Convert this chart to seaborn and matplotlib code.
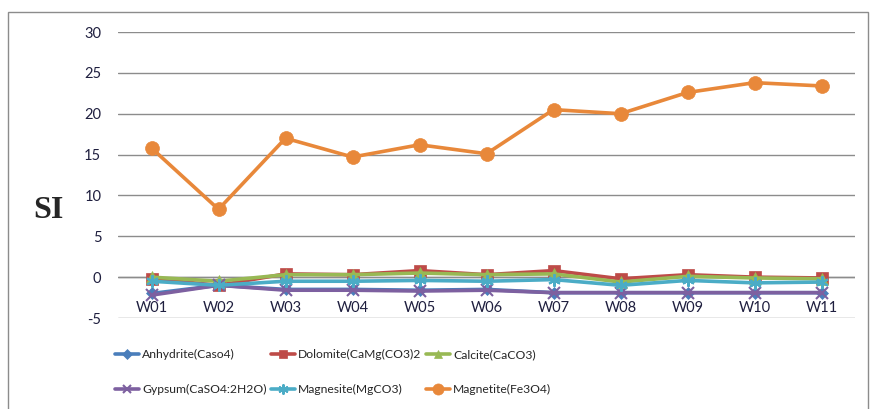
import matplotlib
matplotlib.use("Agg")
import matplotlib.pyplot as plt
import seaborn as sns
import pandas as pd
from matplotlib.patches import Rectangle

wells = ["W01", "W02", "W03", "W04", "W05", "W06", "W07", "W08", "W09", "W10", "W11"]
anhydrite = [-2.0, -1.0, -1.5, -1.5, -1.6, -1.5, -1.9, -1.9, -1.9, -1.9, -1.9]
dolomite = [-0.2, -1.0, 0.4, 0.3, 0.8, 0.3, 0.8, -0.2, 0.3, 0.0, -0.1]
calcite = [0.0, -0.5, 0.3, 0.3, 0.5, 0.3, 0.4, -0.6, 0.1, -0.1, -0.2]
gypsum = [-2.2, -1.0, -1.6, -1.6, -1.7, -1.6, -1.9, -1.9, -1.9, -1.9, -1.9]
magnesite = [-0.5, -1.0, -0.5, -0.5, -0.4, -0.5, -0.3, -1.0, -0.4, -0.7, -0.6]
magnetite = [15.8, 8.3, 17.0, 14.7, 16.2, 15.1, 20.5, 20.0, 22.6, 23.8, 23.4]

series = [
    ("Anhydrite(Caso4)", anhydrite, "#4A7EBB", "D", 6),
    ("Dolomite(CaMg(CO3)2", dolomite, "#BE4B48", "s", 8),
    ("Calcite(CaCO3)", calcite, "#98B954", "^", 8),
    ("Gypsum(CaSO4:2H2O)", gypsum, "#7D60A0", "x", 8),
    ("Magnesite(MgCO3)", magnesite, "#4BACC6", (6, 2, 0), 9),
    ("Magnetite(Fe3O4)", magnetite, "#E8883A", "o", 10),
]

sns.set_style("white")
plt.rcParams["font.family"] = ["Lato", "DejaVu Sans"]
plt.rcParams["axes.unicode_minus"] = False

fig = plt.figure(figsize=(8.76, 4.09), dpi=100)
ax = fig.add_axes([118/876, 1-318/409, (855-118)/876, (318-32)/409])

x = list(range(len(wells)))
handles = []
for name, vals, col, mk, ms in series:
    df = pd.DataFrame({"x": x, "y": vals})
    sns.lineplot(data=df, x="x", y="y", ax=ax, color=col, linewidth=2.6,
                 marker=mk, markersize=ms, markeredgecolor=col,
                 markeredgewidth=1.5 if mk in ("x", (6, 2, 0)) else 0.5,
                 label=name, legend=False)
    handles.append(ax.lines[-1])

ax.set_xlim(-0.5, len(wells) - 0.5)
ax.set_ylim(-5, 30)
ax.set_yticks(range(-5, 31, 5))
ax.set_xticks(x)
ax.set_xticklabels(wells)
ax.grid(axis="y", color="#8C8C8C", linewidth=1)
ax.grid(axis="x", visible=False)
for s in ["top", "right", "left", "bottom"]:
    ax.spines[s].set_visible(False)
ax.axhline(0, color="#8C8C8C", linewidth=1, zorder=0.5)
ax.set_axisbelow(True)
ax.tick_params(axis="x", length=0, pad=-12.5, labelsize=10.5, labelcolor="#1F1F3F")
ax.tick_params(axis="y", length=0, pad=12, labelsize=10.5, labelcolor="#1F1F3F")
ax.set_xlabel("")
ax.set_ylabel("")

fig.text(48/876, 1-211/409, "SI", family="Liberation Serif", fontweight="bold",
         fontsize=23, ha="center", va="center")

order = [0, 3, 1, 4, 2, 5]
leg = fig.legend([handles[i] for i in order], [series[i][0] for i in order],
                 ncol=3, loc="upper left", bbox_to_anchor=(115/876, 1-349/409),
                 frameon=False, fontsize=8.7, handlelength=2.0, handletextpad=0.25,
                 columnspacing=0.35, labelspacing=2.0, borderaxespad=0,
                 borderpad=0, markerscale=0.8)

fig.patches.append(Rectangle((8/876, -0.1), (868-8)/876, 1.1 - 12/409,
                             transform=fig.transFigure, fill=False,
                             edgecolor="#8C8C8C", linewidth=1))

fig.savefig("out.png", dpi=100)
